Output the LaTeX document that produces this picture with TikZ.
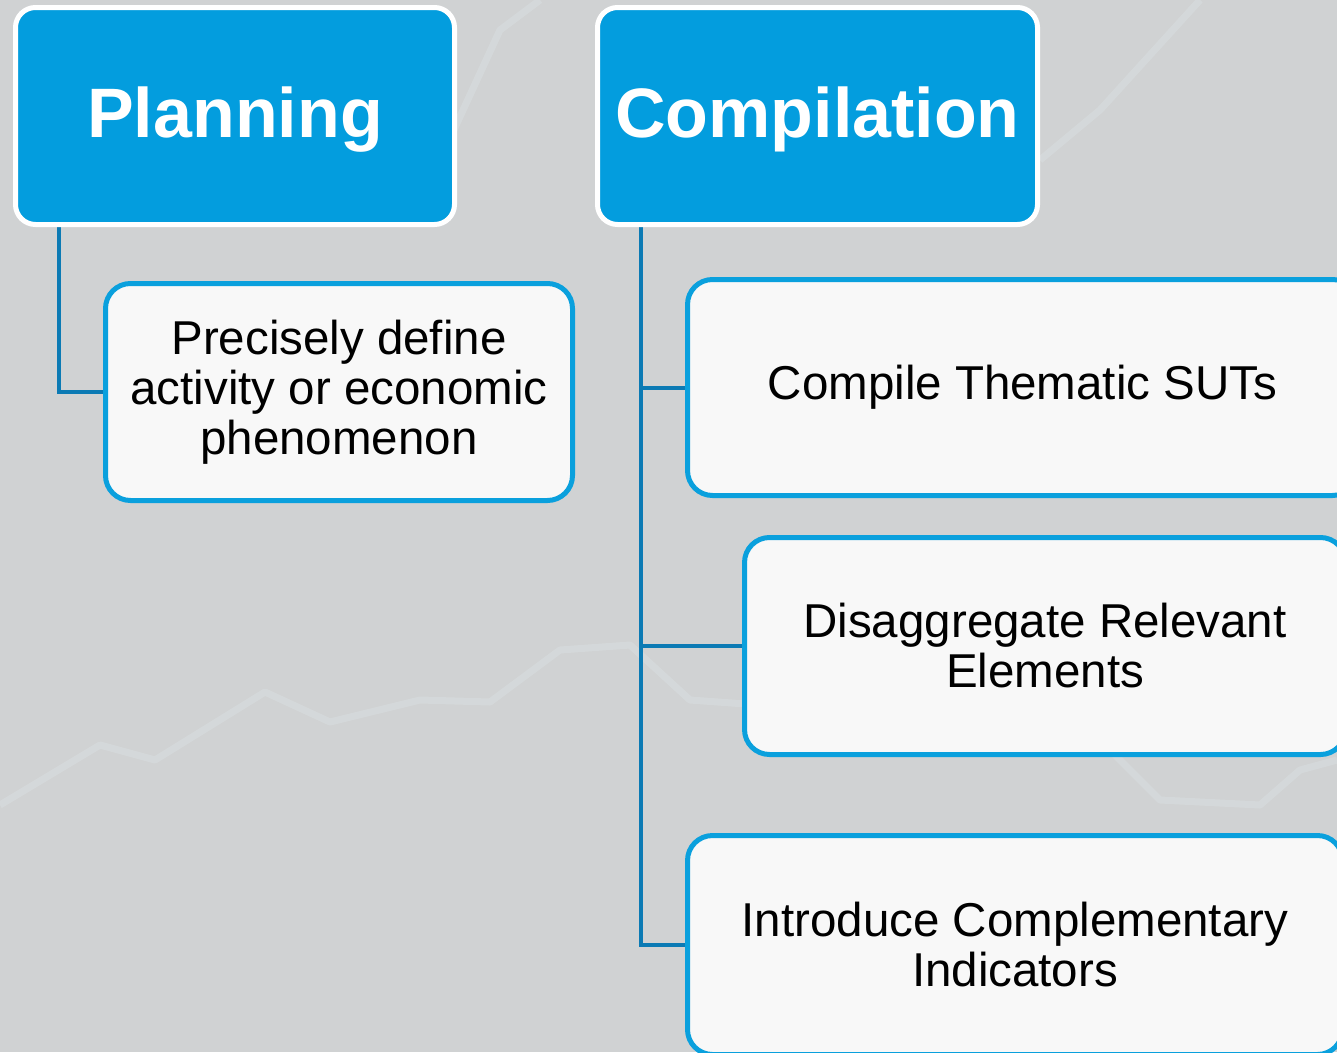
\documentclass[tikz,border=0pt]{standalone}
\usepackage{fontspec}
\setmainfont{Liberation Sans}
\usetikzlibrary{backgrounds}
\definecolor{bggray}{HTML}{D0D2D3}
\definecolor{hblue}{HTML}{039DDE}
\definecolor{bborder}{HTML}{0AA0DD}
\definecolor{boxfill}{HTML}{F8F8F8}
\definecolor{lblue}{HTML}{0B7AB4}
\definecolor{faint}{HTML}{DCE3E5}
\tikzset{
  header/.style={rounded corners=20pt, fill=hblue, draw=white, line width=5pt,
    text=white, font=\fontsize{70}{80}\selectfont\bfseries,
    text height=50pt, text depth=7pt,
    minimum width=439pt, minimum height=217pt, inner sep=0pt},
  itembox/.style={rounded corners=25pt, fill=boxfill, draw=bborder, line width=5pt,
    font=\fontsize{47.5}{50}\selectfont, align=center,
    minimum height=217pt, inner sep=0pt},
  link/.style={draw=lblue, line width=4pt},
  deco/.style={draw=faint, line width=7pt, opacity=0.4, line join=round}
}
\begin{document}
\begin{tikzpicture}[x=1pt,y=-1pt]
\useasboundingbox (0,0) rectangle (1337,1052);
\clip (0,0) rectangle (1337,1052);

% boxes
\node[header] (plan) at (235,116) {Planning};
\node[header, minimum width=440pt] (comp) at (817.5,116) {Compilation};
\node[itembox, minimum width=467pt] (b1) at (339,392) {\rule{0pt}{6pt}Precisely define\\activity or economic\\phenomenon};
\node[itembox, minimum width=670pt, minimum height=216pt] (b2) at (1022.5,387.5) {\raisebox{-3pt}{Compile Thematic SUTs}};
\node[itembox, minimum width=601pt] (b3) at (1045,646) {\rule{0pt}{6pt}Disaggregate Relevant\\Elements};
\node[itembox, minimum width=655pt, minimum height=219pt] (b4) at (1015,945) {\rule{0pt}{6pt}Introduce Complementary\\Indicators};

\begin{pgfonlayer}{background}
  \fill[bggray] (0,0) rectangle (1337,1052);
  % faint background chart
  \draw[deco] (0,805) -- (100,745) -- (155,760) -- (265,692) -- (330,722) -- (420,700)
     -- (490,702) -- (560,650) -- (630,645) -- (690,700) -- (760,705) -- (1100,740)
     -- (1160,800) -- (1260,805) -- (1300,770) -- (1337,760);
  \draw[deco] (1040,160) -- (1100,110) -- (1200,0);
  \draw[deco] (440,160) -- (500,30) -- (540,0);
  % connectors
  \draw[link] (59,0 |- plan.south) |- (b1.west);
  \draw[link] (641,0 |- comp.south) |- (b4.west);
  \draw[link] (641,0 |- b2.west) -- (b2.west);
  \draw[link] (641,0 |- b3.west) -- (b3.west);
\end{pgfonlayer}
\end{tikzpicture}
\end{document}
